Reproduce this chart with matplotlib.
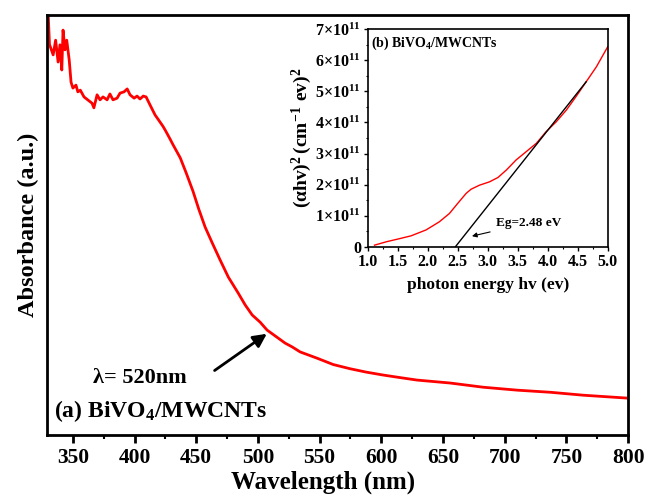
import matplotlib
matplotlib.use("Agg")
import matplotlib.pyplot as plt
from matplotlib.ticker import MultipleLocator, FixedLocator, FixedFormatter

plt.rcParams['font.family'] = ['Liberation Serif', 'DejaVu Serif']
plt.rcParams['font.weight'] = 'bold'
plt.rcParams['mathtext.fontset'] = 'custom'
plt.rcParams['mathtext.rm'] = 'Liberation Serif:bold'
plt.rcParams['mathtext.it'] = 'Liberation Serif:bold'
plt.rcParams['mathtext.bf'] = 'Liberation Serif:bold'

# main UV-vis spectrum (a.u.)
wavelength = [330, 331, 334, 336, 338, 339.5, 341, 342, 343.6, 345, 347, 348.5,
              350, 352.5, 354, 356, 359, 362, 365.5, 367, 369.6, 372, 374.4, 377.7,
              380, 382.5, 385.8, 388.2, 391.4, 394, 396.3, 399.6, 402, 404.4, 407,
              409.3, 412.5, 416.6, 419, 423, 425, 428.7, 431, 437, 441.7, 447.4,
              452, 457.2, 463, 469.3, 476, 484, 489.6, 495.3, 501.7, 507.4, 514,
              522, 527.7, 534.2, 548, 561, 574.7, 587.7, 601.5, 615, 629, 655.8,
              682.6, 710.2, 737, 763.7, 789.6, 800]
absorbance = [1.0, 0.93, 0.905, 0.94, 0.888, 0.929, 0.869, 0.964, 0.917, 0.94, 0.893,
              0.84, 0.826, 0.833, 0.817, 0.821, 0.805, 0.798, 0.79, 0.779, 0.81, 0.798,
              0.805, 0.798, 0.812, 0.798, 0.802, 0.814, 0.817, 0.824, 0.81, 0.802,
              0.807, 0.8, 0.807, 0.805, 0.786, 0.762, 0.752, 0.735, 0.725, 0.705,
              0.692, 0.66, 0.625, 0.58, 0.538, 0.495, 0.457, 0.417, 0.376, 0.338,
              0.31, 0.286, 0.269, 0.25, 0.236, 0.219, 0.21, 0.198, 0.183, 0.168,
              0.158, 0.150, 0.143, 0.137, 0.131, 0.124, 0.114, 0.107, 0.102, 0.095,
              0.09, 0.088]

# Tauc plot (inset)
energy = [1.11, 1.31, 1.53, 1.72, 1.97, 2.19, 2.36, 2.50, 2.64, 2.72, 2.86, 3.03,
          3.17, 3.31, 3.47, 3.64, 3.81, 3.97, 4.14, 4.31, 4.47, 4.64, 4.81, 5.0]
tauc = [0.05, 0.16, 0.26, 0.35, 0.54, 0.80, 1.07, 1.40, 1.72, 1.85, 1.98, 2.09,
        2.23, 2.47, 2.79, 3.06, 3.33, 3.70, 4.02, 4.40, 4.83, 5.31, 5.79, 6.44]
fit_x = [2.46, 4.64]
fit_y = [0.0, 5.31]
inset_yticks = [0, 1, 2, 3, 4, 5, 6, 7]
inset_ylabels = ['0'] + [r'$%d{\times}10^{11}$' % v for v in inset_yticks[1:]]
inset_xticks = [1.0, 1.5, 2.0, 2.5, 3.0, 3.5, 4.0, 4.5, 5.0]

fig = plt.figure(figsize=(6.5, 4.99), dpi=100)
ax = fig.add_axes([0.0723, 0.128, 0.894, 0.842])
ax.plot(wavelength, absorbance, color='red', lw=2.0, solid_joinstyle='round')
ax.set_xlim(329, 800)
ax.set_ylim(0, 1.0)
ax.set_yticks([])
ax.xaxis.set_major_locator(MultipleLocator(50))
ax.xaxis.set_minor_locator(MultipleLocator(25))
ax.tick_params(axis='x', which='major', direction='out', length=6, width=2,
               labelsize=15.5, pad=3)
ax.tick_params(axis='x', which='minor', direction='out', length=3, width=1.5)
for s in ax.spines.values():
    s.set_linewidth(2)
ax.set_xlabel('Wavelength (nm)', fontsize=18, fontweight='bold', labelpad=2)
ax.xaxis.set_label_coords(0.475, -0.085)
ax.set_ylabel('Absorbance (a.u.)', fontsize=17.5, fontweight='bold', labelpad=6)

ax.annotate('', xy=(509, 0.245), xytext=(463, 0.15),
            arrowprops=dict(arrowstyle='-|>', color='black', lw=2, mutation_scale=20))
ax.text(404, 0.136, r'λ= 520nm', fontsize=16, fontweight='bold',
        ha='center', va='center')
ax.text(334.5, 0.058, r'(a) BiVO$_{4}$/MWCNTs', fontsize=17, fontweight='bold',
        ha='left', va='center')

# inset
ins = fig.add_axes([0.566, 0.5056, 0.369, 0.4357])
ins.plot(energy, tauc, color='red', lw=1.0)
ins.plot(fit_x, fit_y, color='black', lw=1.0)
ins.set_xlim(1.0, 5.0)
ins.set_ylim(0, 7)
ins.xaxis.set_major_locator(FixedLocator(inset_xticks))
ins.yaxis.set_major_locator(FixedLocator(inset_yticks))
ins.yaxis.set_major_formatter(FixedFormatter(inset_ylabels))
ins.yaxis.set_minor_locator(MultipleLocator(0.5))
ins.xaxis.set_minor_locator(MultipleLocator(0.25))
ins.tick_params(which='major', direction='out', length=3, width=1, labelsize=11.5, pad=2)
ins.tick_params(which='minor', direction='out', length=1.5, width=0.8)
for s in ins.spines.values():
    s.set_linewidth(1.2)
ins.set_xlabel('photon energy hv (ev)', fontsize=12.5, fontweight='bold', labelpad=5)
ins.set_ylabel(r'$(\alpha hv)^2\,(cm^{-1}\ ev)^2$', fontsize=14, labelpad=1)
ins.text(1.06, 6.56, r'(b) BiVO$_4$/MWCNTs', fontsize=10, fontweight='bold',
         ha='left', va='center')
ins.annotate('Eg=2.48 eV', xy=(2.69, 0.32), xytext=(3.13, 0.76),
             fontsize=9.5, fontweight='bold', va='center',
             arrowprops=dict(arrowstyle='-|>', color='black', lw=0.8, mutation_scale=7))

fig.savefig('out.png', dpi=100)
